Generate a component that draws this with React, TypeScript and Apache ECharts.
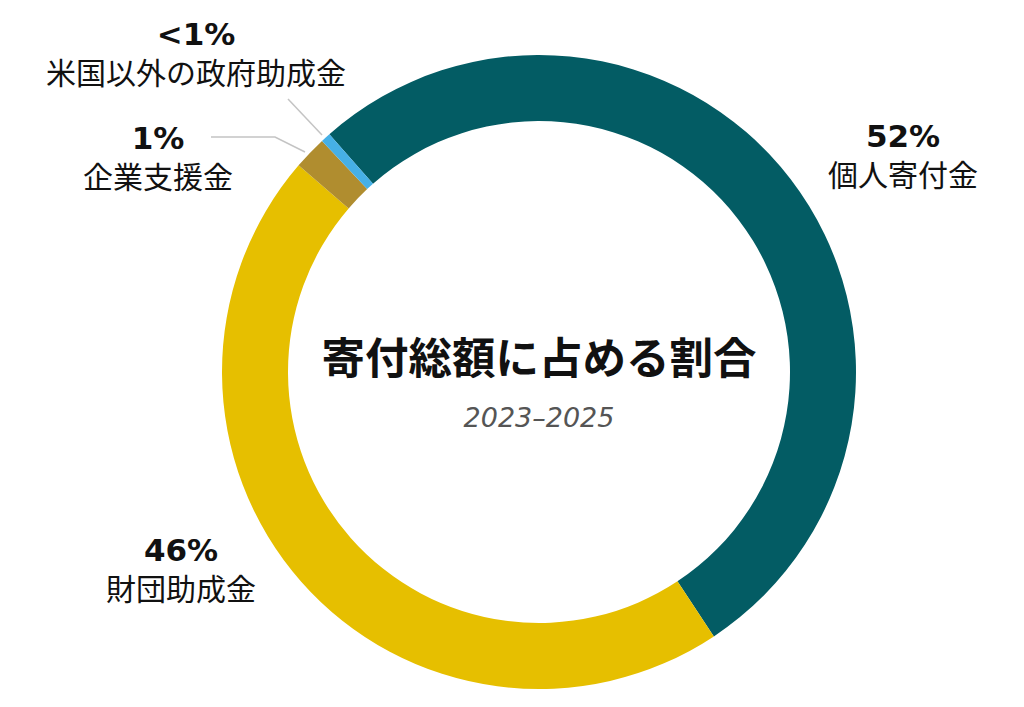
import { useEffect, useRef } from 'react';
import * as echarts from 'echarts';

// Share of total giving, 2023–2025 (clockwise from upper left)
const categories = ['個人寄付金', '財団助成金', '企業支援金', '米国以外の政府助成金'];
const shares = [52.2, 45.6, 1.7, 0.5];
const shareLabels = ['52%', '46%', '1%', '<1%'];
const colors = ['#035c64', '#e6bf00', '#b08d2f', '#46b0e6'];

const titleText = '寄付総額に占める割合';
const subtitleText = '2023–2025';

// where each label block sits, and leader lines for the thin slices
const labelSpots = [
  { x: 903, y: 154, line: null },
  { x: 181, y: 568, line: null },
  { x: 158, y: 156, line: [[305, 152], [275, 137], [211, 137]] },
  { x: 196, y: 52, line: [[322, 135], [305, 117], [288, 99]] },
];

const FONT = '"Noto Sans CJK JP", "Noto Sans", sans-serif';

export default function App() {
  const chartRef = useRef<HTMLDivElement>(null);

  useEffect(() => {
    if (!chartRef.current) return;
    const chart = echarts.init(chartRef.current, null, { renderer: 'svg' });

    const option: echarts.EChartsOption = {
      animation: false,
      backgroundColor: '#ffffff',
      graphic: [
        {
          type: 'text',
          x: 539,
          y: 355,
          style: {
            text: titleText,
            fill: '#111111',
            font: `bold 43.5px ${FONT}`,
            textAlign: 'center',
            textVerticalAlign: 'middle',
          },
        },
        {
          type: 'text',
          x: 539,
          y: 417,
          style: {
            text: subtitleText,
            fill: '#555555',
            font: 'italic 27px "DejaVu Sans", sans-serif',
            textAlign: 'center',
            textVerticalAlign: 'middle',
          },
        },
      ],
      series: [
        {
          type: 'pie',
          center: [539, 372],
          radius: [251, 317],
          startAngle: 131.4,
          clockwise: true,
          silent: true,
          avoidLabelOverlap: false,
          itemStyle: { borderWidth: 0 },
          label: {
            show: true,
            position: 'outside',
            formatter: (p: any) => `{p|${shareLabels[p.dataIndex]}}\n{n|${p.name}}`,
            rich: {
              p: {
                fontFamily: '"DejaVu Sans", sans-serif',
                fontWeight: 'bold',
                fontSize: 31,
                color: '#111111',
                lineHeight: 37,
                align: 'center',
              },
              n: {
                fontFamily: FONT,
                fontSize: 30,
                color: '#111111',
                lineHeight: 37,
                align: 'center',
              },
            },
          },
          labelLine: {
            show: true,
            lineStyle: { color: '#c4c4c4', width: 1.5 },
          },
          labelLayout: (params: any) => {
            const spot = labelSpots[params.dataIndex];
            const out: any = {
              x: spot.x,
              y: spot.y,
              align: 'center',
              verticalAlign: 'middle',
            };
            if (spot.line) out.labelLinePoints = spot.line;
            return out;
          },
          data: categories.map((name, i) => ({
            name,
            value: shares[i],
            itemStyle: { color: colors[i] },
            labelLine: { show: labelSpots[i].line !== null },
          })),
        },
      ],
    };

    chart.setOption(option);
    return () => chart.dispose();
  }, []);

  return (
    <div
      ref={chartRef}
      style={{ position: 'fixed', left: 0, top: 0, width: 1024, height: 707 }}
    />
  );
}
